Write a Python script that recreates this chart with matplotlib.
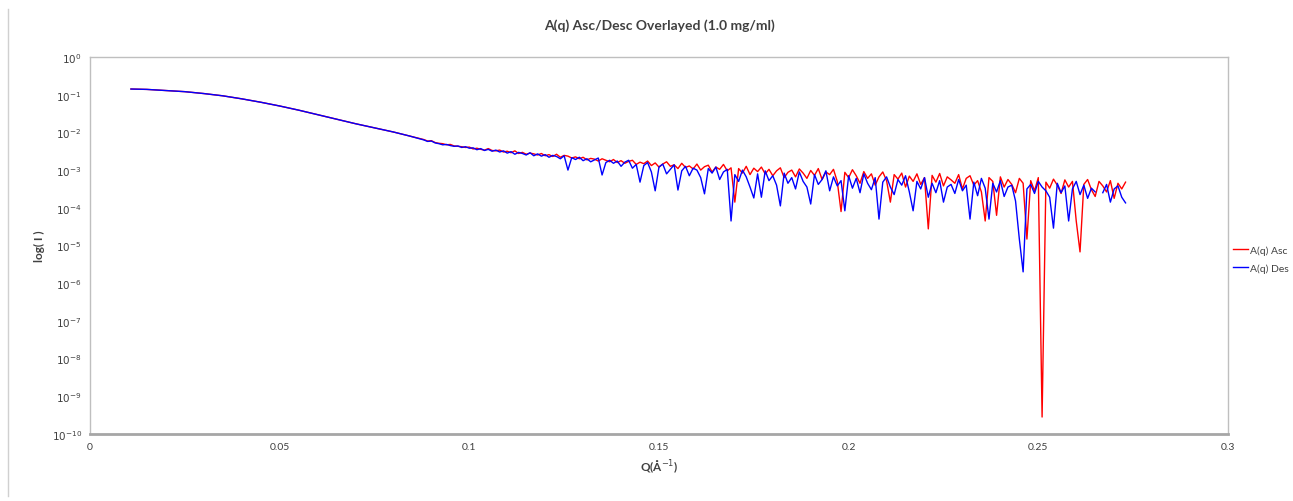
import numpy as np
import matplotlib
matplotlib.use('Agg')
import matplotlib.pyplot as plt
from matplotlib.ticker import FixedLocator, NullLocator
from matplotlib.lines import Line2D

plt.rcParams['font.family'] = ['Lato', 'DejaVu Sans']

# --- data: smooth low-q part (shared by both runs), log10(I) ---
q_low = [0.0108, 0.015, 0.020, 0.025, 0.030, 0.035, 0.040, 0.045, 0.050,
         0.055, 0.060, 0.065, 0.070, 0.075, 0.080, 0.084]
logI_low = [-0.85, -0.86, -0.89, -0.92, -0.97, -1.03, -1.11, -1.20, -1.30,
            -1.41, -1.53, -1.65, -1.77, -1.88, -1.99, -2.09]

# noisy high-q part, q = 0.088 ... 0.273 in 0.001 steps
q_high = np.round(np.arange(0.088, 0.2735, 0.001), 3)

logI_asc = [
    -2.19, -2.23, -2.22, -2.27, -2.29, -2.30, -2.33, -2.32, -2.36, -2.37,
    -2.38, -2.40, -2.39, -2.44, -2.42, -2.45, -2.47, -2.43, -2.48, -2.49,
    -2.47, -2.52, -2.50, -2.54, -2.49, -2.56, -2.53, -2.58, -2.55, -2.57,
    -2.60, -2.56, -2.62, -2.59, -2.64, -2.58, -2.66, -2.61, -2.63, -2.68,
    -2.65, -2.70, -2.66, -2.73, -2.69, -2.71, -2.76, -2.70, -2.74, -2.78,
    -2.72, -2.80, -2.75, -2.82, -2.77, -2.74, -2.85, -2.79, -2.83, -2.76,
    -2.88, -2.81, -2.92, -2.84, -2.78, -2.90, -2.86, -2.96, -2.82, -2.93,
    -2.89, -2.97, -2.84, -3.00, -2.91, -2.87, -3.05, -2.92, -2.98, -2.85,
    -3.02, -2.94, -3.85, -2.96, -3.08, -2.90, -3.12, -2.95, -3.04, -2.92,
    -3.10, -2.98, -3.15, -3.02, -2.94, -3.20, -3.06, -3.00, -3.18, -2.97,
    -3.08, -3.22, -3.01, -3.14, -2.96, -3.25, -3.05, -3.12, -2.98, -3.30,
    -4.10, -3.06, -3.20, -2.99, -3.15, -3.35, -3.04, -3.22, -3.10, -3.40,
    -3.18, -3.05, -3.28, -3.85, -3.12, -3.24, -3.08, -3.45, -3.16, -3.30,
    -3.10, -3.38, -3.20, -4.56, -3.14, -3.32, -3.09, -3.42, -3.18, -3.26,
    -3.35, -3.12, -3.50, -3.22, -3.15, -3.40, -3.28, -3.58, -4.35, -3.20,
    -3.30, -4.20, -3.18, -3.45, -3.25, -3.38, -3.60, -3.22, -3.35, -4.83,
    -3.28, -3.55, -3.20, -9.55, -3.32, -3.48, -3.24, -3.40, -3.62, -3.26,
    -3.45, -3.30, -4.35, -5.17, -3.38, -3.25, -3.52, -3.70, -3.30, -3.42,
    -3.58, -3.28, -3.75, -3.35, -3.50, -3.32,
]

logI_des = [
    -2.20, -2.24, -2.23, -2.28, -2.30, -2.33, -2.32, -2.35, -2.37, -2.36,
    -2.40, -2.38, -2.42, -2.41, -2.46, -2.43, -2.48, -2.45, -2.50, -2.47,
    -2.52, -2.49, -2.55, -2.51, -2.58, -2.53, -2.56, -2.60, -2.54, -2.62,
    -2.57, -2.63, -2.59, -2.66, -2.61, -2.64, -2.70, -2.62, -3.00, -2.67,
    -2.72, -2.66, -2.75, -2.70, -2.78, -2.73, -2.68, -3.13, -2.80, -2.74,
    -2.82, -2.76, -2.90, -2.79, -2.74, -2.95, -2.85, -3.32, -2.88, -2.80,
    -3.05, -3.55, -2.92, -2.84, -3.10, -2.98, -2.86, -3.53, -3.02, -2.90,
    -3.15, -2.95, -3.00, -3.20, -3.63, -2.96, -3.08, -2.92, -3.25, -3.05,
    -2.98, -4.35, -3.12, -3.30, -3.00, -3.18, -3.45, -3.74, -3.10, -3.72,
    -3.02, -3.28, -3.15, -3.40, -3.95, -3.08, -3.35, -3.20, -3.50, -3.05,
    -3.30, -3.45, -3.90, -3.12, -3.38, -3.25, -3.02, -3.55, -3.18, -3.42,
    -3.28, -4.08, -3.15, -3.48, -3.22, -3.60, -3.10, -3.35, -3.52, -3.20,
    -4.30, -3.32, -3.18, -3.45, -3.65, -3.25, -3.40, -3.15, -3.58, -4.08,
    -3.30, -3.50, -3.20, -3.72, -3.35, -3.60, -3.28, -3.85, -3.45, -3.38,
    -3.62, -3.25, -3.55, -3.40, -4.30, -3.32, -3.68, -3.22, -3.48, -4.30,
    -3.35, -3.58, -3.28, -3.70, -3.45, -3.40, -3.82, -4.83, -5.70, -3.50,
    -3.38, -3.62, -3.30, -3.45, -3.55, -3.72, -4.54, -3.35, -3.60, -3.42,
    -4.35, -3.50, -3.30, -3.65, -3.40, -3.75, -3.48, -3.58, np.nan, -3.60,
    -3.38, -3.85, -3.50, -3.42, -3.72, -3.87,
]

xticks = [0, 0.05, 0.1, 0.15, 0.2, 0.25, 0.3]
xtick_labels = ['0', '0.05', '0.1', '0.15', '0.2', '0.25', '0.3']
ydecades = list(range(0, -11, -1))

q_all = np.concatenate([q_low, q_high])
I_asc = 10.0 ** np.concatenate([logI_low, logI_asc])
I_des = 10.0 ** np.concatenate([logI_low, logI_des])

fig = plt.figure(figsize=(12.93, 5.02), dpi=100)
ax = fig.add_axes([0.0696, 0.1335, 0.8801, 0.751])

ax.plot(q_all, I_asc, color='#ff0000', lw=1.0, label='A(q) Asc')
ax.plot(q_all, I_des, color='#0000ff', lw=1.0, label='A(q) Des')

ax.set_yscale('log')
ax.set_xlim(0, 0.3)
ax.set_ylim(1e-10, 1)
ax.xaxis.set_major_locator(FixedLocator(xticks))
ax.set_xticklabels(xtick_labels)
ax.yaxis.set_major_locator(FixedLocator([10.0 ** d for d in ydecades]))
ax.set_yticklabels([r'$10^{%d}$' % d for d in ydecades])
ax.yaxis.set_minor_locator(NullLocator())
ax.tick_params(length=0, labelsize=7.5, colors='#404040', pad=6)

for side in ['top', 'right', 'left']:
    ax.spines[side].set_color('#bfbfbf')
    ax.spines[side].set_linewidth(1.0)
ax.spines['bottom'].set_color('#a6a6a6')
ax.spines['bottom'].set_linewidth(2.0)

ax.set_title('A(q) Asc/Desc Overlayed (1.0 mg/ml)', fontsize=10,
             fontweight='bold', color='#404040', pad=20)
ax.set_xlabel(r'Q(Å$^{-1}$)', fontsize=8.5, fontweight='bold', color='#404040', labelpad=5)
ax.set_ylabel('log( I )', fontsize=8.5, fontweight='bold', color='#404040', labelpad=5)

ax.legend(loc='center left', bbox_to_anchor=(1233 / 1293, 1 - 260 / 502),
          bbox_transform=fig.transFigure, frameon=False, fontsize=7.5,
          handlelength=1.4, handletextpad=0.2, labelspacing=0.8,
          borderaxespad=0, borderpad=0, labelcolor='#404040')

# chart-area border on the left, as in the screenshot
fig.add_artist(Line2D([8 / 1293, 8 / 1293], [0.01, 0.98], transform=fig.transFigure,
                      color='#d0d0d0', lw=1.0))

fig.savefig('out.png', dpi=100)
